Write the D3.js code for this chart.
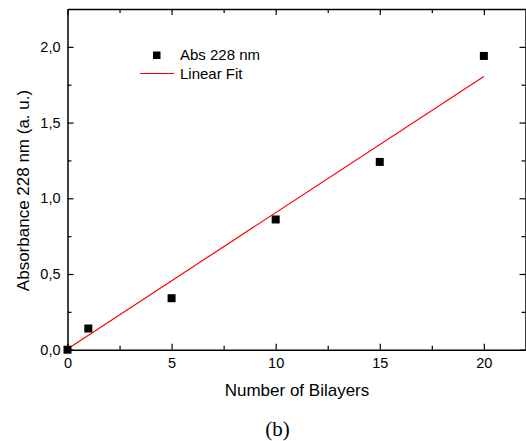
<!DOCTYPE html>
<html>
<head>
<meta charset="utf-8">
<script src="https://cdnjs.cloudflare.com/ajax/libs/d3/7.8.5/d3.min.js"></script>
<style>
  html, body { margin: 0; padding: 0; background: #fff; }
  svg { display: block; }
  text { font-family: "Liberation Sans", Arial, sans-serif; fill: #000; }
</style>
</head>
<body>
<svg id="chart" width="526" height="441"></svg>
<script>
// Data
const bilayers = [0, 1, 5, 10, 15, 20];
const absorbance = [0.0, 0.14, 0.34, 0.86, 1.24, 1.94];
const fitX = [0, 20];
const fitY = [0.005, 1.805];
const xMajorTicks = [0, 5, 10, 15, 20];
const xMinorTicks = [2.5, 7.5, 12.5, 17.5];
const yMajorTicks = [0, 0.5, 1.0, 1.5, 2.0];
const yMinorTicks = [0.25, 0.75, 1.25, 1.75];
const xTitle = "Number of Bilayers";
const yTitle = "Absorbance 228 nm (a. u.)";
const legendLabels = ["Abs 228 nm", "Linear Fit"];
const caption = "(b)";

const svg = d3.select("#chart");
const L = 67.5, R = 525.5, T = 9, B = 349.7;

const x = d3.scaleLinear().domain([0, 22]).range([L, R]);
const y = d3.scaleLinear().domain([0, 2.25]).range([B, T]);

const fmtY = v => d3.format(".1f")(v).replace(".", ",");

function styleAxis(g) {
  g.selectAll("path.domain").attr("stroke", "#000").attr("stroke-width", 1.5);
  g.selectAll(".tick line").attr("stroke", "#000").attr("stroke-width", 1.2);
  g.selectAll("text").style("font-family", "'Liberation Sans', Arial, sans-serif")
    .style("font-size", "14.5px").attr("fill", "#000");
}

// Bottom axis
const gB = svg.append("g").attr("transform", `translate(0,${B})`)
  .call(d3.axisBottom(x).tickValues(xMajorTicks).tickSizeInner(-6).tickSizeOuter(0).tickPadding(8).tickFormat(d3.format("d")));
styleAxis(gB);
svg.append("g").attr("transform", `translate(0,${B})`)
  .call(d3.axisBottom(x).tickValues(xMinorTicks).tickSizeInner(-4).tickSizeOuter(0).tickFormat(""))
  .call(g => { g.select("path.domain").remove(); styleAxis(g); });

// Top axis
const gT = svg.append("g").attr("transform", `translate(0,${T})`)
  .call(d3.axisTop(x).tickValues(xMajorTicks).tickSizeInner(-6).tickSizeOuter(0).tickFormat(""));
styleAxis(gT);
svg.append("g").attr("transform", `translate(0,${T})`)
  .call(d3.axisTop(x).tickValues(xMinorTicks).tickSizeInner(-4).tickSizeOuter(0).tickFormat(""))
  .call(g => { g.select("path.domain").remove(); styleAxis(g); });

// Left axis
const gL = svg.append("g").attr("transform", `translate(${L},0)`)
  .call(d3.axisLeft(y).tickValues(yMajorTicks).tickSizeInner(-6).tickSizeOuter(0).tickPadding(7).tickFormat(fmtY));
styleAxis(gL);
svg.append("g").attr("transform", `translate(${L},0)`)
  .call(d3.axisLeft(y).tickValues(yMinorTicks).tickSizeInner(-4).tickSizeOuter(0).tickFormat(""))
  .call(g => { g.select("path.domain").remove(); styleAxis(g); });

// Right axis
const gR = svg.append("g").attr("transform", `translate(${R},0)`)
  .call(d3.axisRight(y).tickValues(yMajorTicks).tickSizeInner(-6).tickSizeOuter(0).tickFormat(""));
styleAxis(gR);
svg.append("g").attr("transform", `translate(${R},0)`)
  .call(d3.axisRight(y).tickValues(yMinorTicks).tickSizeInner(-4).tickSizeOuter(0).tickFormat(""))
  .call(g => { g.select("path.domain").remove(); styleAxis(g); });

// Linear fit line
const fitData = fitX.map((d, i) => [d, fitY[i]]);
svg.append("path")
  .datum(fitData)
  .attr("fill", "none")
  .attr("stroke", "#ff0000")
  .attr("stroke-width", 1.2)
  .attr("d", d3.line().x(d => x(d[0])).y(d => y(d[1])));

// Data points (squares)
const sq = 8;
svg.append("g").selectAll("rect")
  .data(bilayers.map((d, i) => [d, absorbance[i]]))
  .join("rect")
  .attr("x", d => x(d[0]) - sq / 2)
  .attr("y", d => y(d[1]) - sq / 2)
  .attr("width", sq)
  .attr("height", sq)
  .attr("fill", "#000");

// Axis titles
svg.append("text")
  .attr("x", 297)
  .attr("y", 396)
  .attr("text-anchor", "middle")
  .style("font-size", "17px")
  .text(xTitle);

svg.append("text")
  .attr("transform", `translate(29,190.5) rotate(-90)`)
  .attr("text-anchor", "middle")
  .style("font-size", "17px")
  .text(yTitle);

// Legend
const lg = svg.append("g");
lg.append("rect").attr("x", 153).attr("y", 51.5).attr("width", 7.5).attr("height", 7.5).attr("fill", "#000");
lg.append("text").attr("x", 180).attr("y", 60).style("font-size", "15px").text(legendLabels[0]);
lg.append("line").attr("x1", 140).attr("x2", 174).attr("y1", 73.5).attr("y2", 73.5)
  .attr("stroke", "#ff0000").attr("stroke-width", 1.2);
lg.append("text").attr("x", 180).attr("y", 79).style("font-size", "15px").text(legendLabels[1]);

// Caption
svg.append("text")
  .attr("x", 277.5)
  .attr("y", 435.5)
  .attr("text-anchor", "middle")
  .style("font-family", "'Liberation Serif', 'Times New Roman', serif")
  .style("font-size", "21px")
  .text(caption);
</script>
</body>
</html>
